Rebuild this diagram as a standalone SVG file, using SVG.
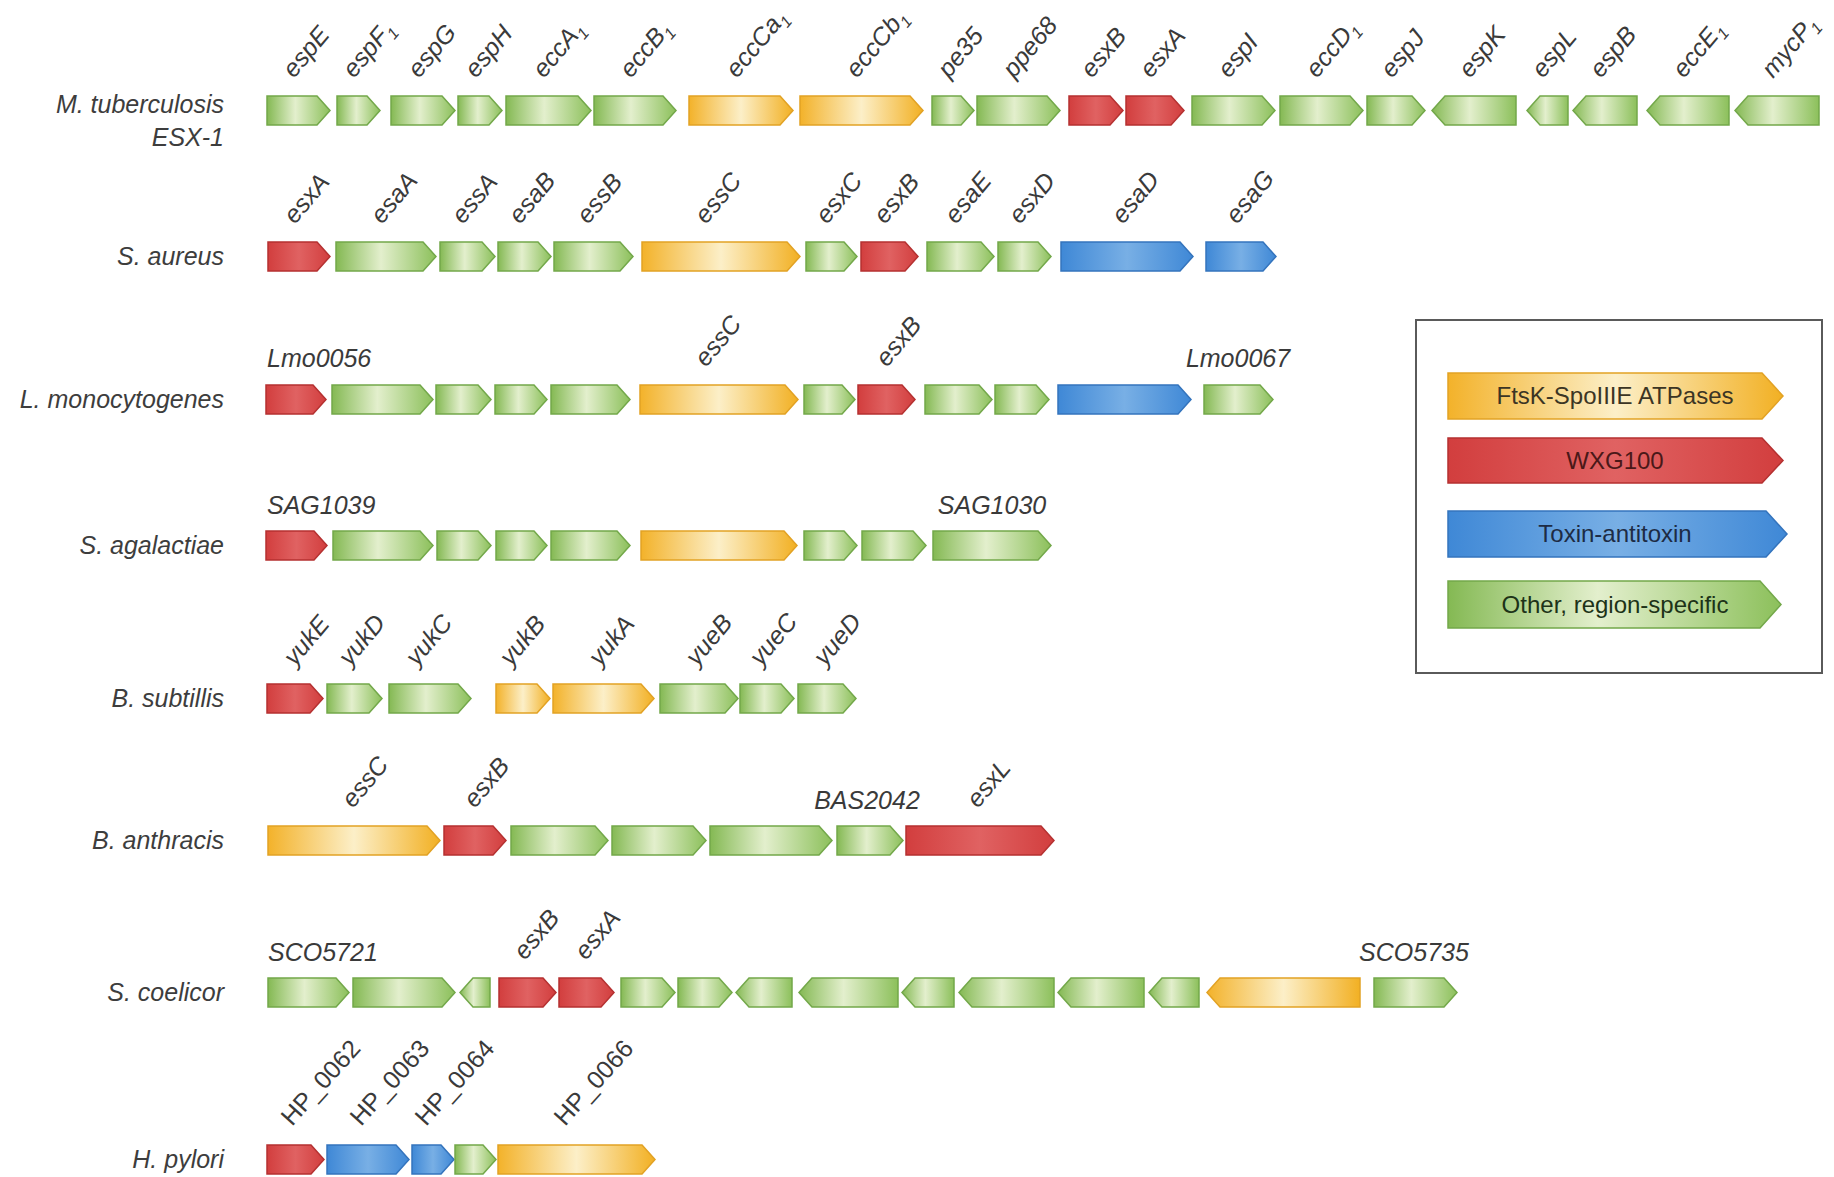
<svg xmlns="http://www.w3.org/2000/svg" width="1834" height="1177" viewBox="0 0 1834 1177">
<defs>
<linearGradient id="gG" x1="0" y1="0" x2="1" y2="0">
<stop offset="0" stop-color="#84b953"/><stop offset="0.45" stop-color="#e3efcd"/><stop offset="1" stop-color="#8cc05b"/>
</linearGradient>
<linearGradient id="gY" x1="0" y1="0" x2="1" y2="0">
<stop offset="0" stop-color="#f3b22a"/><stop offset="0.5" stop-color="#fcefc8"/><stop offset="1" stop-color="#f2b023"/>
</linearGradient>
<linearGradient id="gR" x1="0" y1="0" x2="1" y2="0">
<stop offset="0" stop-color="#d23e3e"/><stop offset="0.5" stop-color="#e06262"/><stop offset="1" stop-color="#d23e3e"/>
</linearGradient>
<linearGradient id="gB" x1="0" y1="0" x2="1" y2="0">
<stop offset="0" stop-color="#3f88d6"/><stop offset="0.5" stop-color="#78afe5"/><stop offset="1" stop-color="#3f88d6"/>
</linearGradient>
</defs>
<style>
.g{fill:url(#gG);stroke:#73a84a;stroke-width:1.5}
.y{fill:url(#gY);stroke:#e2a224;stroke-width:1.5}
.r{fill:url(#gR);stroke:#b53131;stroke-width:1.5}
.b{fill:url(#gB);stroke:#3474bd;stroke-width:1.5}
.sp{font-family:"Liberation Sans",Arial,sans-serif;font-size:25px;font-style:italic;fill:#3d3d3d;text-anchor:end}
.gl{font-family:"Liberation Sans",Arial,sans-serif;font-size:25px;font-style:italic;fill:#3a3a3a}
.hl{font-family:"Liberation Sans",Arial,sans-serif;font-size:25px;font-style:normal;fill:#3a3a3a}
.sub{font-size:16px}
.lg{font-family:"Liberation Sans",Arial,sans-serif;font-size:24px;text-anchor:middle}
</style>
<rect width="1834" height="1177" fill="#ffffff"/>
<g id="connectors"/>

<g id="species-labels">
<text class="sp" x="224" y="113">M. tuberculosis</text>
<text class="sp" x="224" y="146">ESX-1</text>
<text class="sp" x="224" y="265">S. aureus</text>
<text class="sp" x="224" y="408">L. monocytogenes</text>
<text class="sp" x="224" y="554">S. agalactiae</text>
<text class="sp" x="224" y="707">B. subtillis</text>
<text class="sp" x="224" y="849">B. anthracis</text>
<text class="sp" x="224" y="1001">S. coelicor</text>
<text class="sp" x="224" y="1168">H. pylori</text>
</g>

<!-- Row 1: M. tuberculosis ESX-1 -->
<g id="row-mtb">
<g id="mtb-espE"><path class="g" d="M267 96H317L330 110.5L317 125H267Z"/><text class="gl" transform="translate(294 79) rotate(-50)">espE</text></g>
<g id="mtb-espF1"><path class="g" d="M337 96H367L380 110.5L367 125H337Z"/><text class="gl" transform="translate(354 79) rotate(-50)">espF<tspan class="sub" dy="6">1</tspan></text></g>
<g id="mtb-espG"><path class="g" d="M391 96H442L455 110.5L442 125H391Z"/><text class="gl" transform="translate(419 79) rotate(-50)">espG</text></g>
<g id="mtb-espH"><path class="g" d="M458 96H489L502 110.5L489 125H458Z"/><text class="gl" transform="translate(476 79) rotate(-50)">espH</text></g>
<g id="mtb-eccA1"><path class="g" d="M506 96H578L591 110.5L578 125H506Z"/><text class="gl" transform="translate(544 79) rotate(-50)">eccA<tspan class="sub" dy="6">1</tspan></text></g>
<g id="mtb-eccB1"><path class="g" d="M594 96H663L676 110.5L663 125H594Z"/><text class="gl" transform="translate(631 79) rotate(-50)">eccB<tspan class="sub" dy="6">1</tspan></text></g>
<g id="mtb-eccCa1"><path class="y" d="M689 96H780L793 110.5L780 125H689Z"/><text class="gl" transform="translate(737 79) rotate(-50)">eccCa<tspan class="sub" dy="6">1</tspan></text></g>
<g id="mtb-eccCb1"><path class="y" d="M800 96H910L923 110.5L910 125H800Z"/><text class="gl" transform="translate(857 79) rotate(-50)">eccCb<tspan class="sub" dy="6">1</tspan></text></g>
<g id="mtb-pe35"><path class="g" d="M932 96H961L974 110.5L961 125H932Z"/><text class="gl" transform="translate(949 79) rotate(-50)">pe35</text></g>
<g id="mtb-ppe68"><path class="g" d="M977 96H1047L1060 110.5L1047 125H977Z"/><text class="gl" transform="translate(1014 79) rotate(-50)">ppe68</text></g>
<g id="mtb-esxB"><path class="r" d="M1069 96H1110L1123 110.5L1110 125H1069Z"/><text class="gl" transform="translate(1092 79) rotate(-50)">esxB</text></g>
<g id="mtb-esxA"><path class="r" d="M1126 96H1171L1184 110.5L1171 125H1126Z"/><text class="gl" transform="translate(1151 79) rotate(-50)">esxA</text></g>
<g id="mtb-espI"><path class="g" d="M1192 96H1262L1275 110.5L1262 125H1192Z"/><text class="gl" transform="translate(1229 79) rotate(-50)">espI</text></g>
<g id="mtb-eccD1"><path class="g" d="M1280 96H1350L1363 110.5L1350 125H1280Z"/><text class="gl" transform="translate(1317 79) rotate(-50)">eccD<tspan class="sub" dy="6">1</tspan></text></g>
<g id="mtb-espJ"><path class="g" d="M1367 96H1412L1425 110.5L1412 125H1367Z"/><text class="gl" transform="translate(1392 79) rotate(-50)">espJ</text></g>
<g id="mtb-espK"><path class="g" d="M1516 96H1445L1432 110.5L1445 125H1516Z"/><text class="gl" transform="translate(1470 79) rotate(-50)">espK</text></g>
<g id="mtb-espL"><path class="g" d="M1568 96H1540L1527 110.5L1540 125H1568Z"/><text class="gl" transform="translate(1543 79) rotate(-50)">espL</text></g>
<g id="mtb-espB"><path class="g" d="M1637 96H1586L1573 110.5L1586 125H1637Z"/><text class="gl" transform="translate(1601 79) rotate(-50)">espB</text></g>
<g id="mtb-eccE1"><path class="g" d="M1729 96H1660L1647 110.5L1660 125H1729Z"/><text class="gl" transform="translate(1684 79) rotate(-50)">eccE<tspan class="sub" dy="6">1</tspan></text></g>
<g id="mtb-mycP1"><path class="g" d="M1819 96H1748L1735 110.5L1748 125H1819Z"/><text class="gl" transform="translate(1773 79) rotate(-50)">mycP<tspan class="sub" dy="6">1</tspan></text></g>
</g>

<!-- Row 2: S. aureus -->
<g id="row-sau">
<g id="sau-esxA"><path class="r" d="M268 242H317L330 256.5L317 271H268Z"/><text class="gl" transform="translate(295 225) rotate(-50)">esxA</text></g>
<g id="sau-esaA"><path class="g" d="M336 242H423L436 256.5L423 271H336Z"/><text class="gl" transform="translate(382 225) rotate(-50)">esaA</text></g>
<g id="sau-essA"><path class="g" d="M440 242H482L495 256.5L482 271H440Z"/><text class="gl" transform="translate(463 225) rotate(-50)">essA</text></g>
<g id="sau-esaB"><path class="g" d="M498 242H538L551 256.5L538 271H498Z"/><text class="gl" transform="translate(520 225) rotate(-50)">esaB</text></g>
<g id="sau-essB"><path class="g" d="M554 242H620L633 256.5L620 271H554Z"/><text class="gl" transform="translate(588 225) rotate(-50)">essB</text></g>
<g id="sau-essC"><path class="y" d="M642 242H787L800 256.5L787 271H642Z"/><text class="gl" transform="translate(706 225) rotate(-50)">essC</text></g>
<g id="sau-esxC"><path class="g" d="M806 242H844L857 256.5L844 271H806Z"/><text class="gl" transform="translate(827 225) rotate(-50)">esxC</text></g>
<g id="sau-esxB"><path class="r" d="M861 242H905L918 256.5L905 271H861Z"/><text class="gl" transform="translate(885 225) rotate(-50)">esxB</text></g>
<g id="sau-esaE"><path class="g" d="M927 242H981L994 256.5L981 271H927Z"/><text class="gl" transform="translate(956 225) rotate(-50)">esaE</text></g>
<g id="sau-esxD"><path class="g" d="M998 242H1038L1051 256.5L1038 271H998Z"/><text class="gl" transform="translate(1020 225) rotate(-50)">esxD</text></g>
<g id="sau-esaD"><path class="b" d="M1061 242H1180L1193 256.5L1180 271H1061Z"/><text class="gl" transform="translate(1123 225) rotate(-50)">esaD</text></g>
<g id="sau-esaG"><path class="b" d="M1206 242H1263L1276 256.5L1263 271H1206Z"/><text class="gl" transform="translate(1237 225) rotate(-50)">esaG</text></g>
</g>

<!-- Row 3: L. monocytogenes -->
<g id="row-lmo">
<g id="lmo-0056"><path class="r" d="M266 385H313L326 399.5L313 414H266Z"/><text class="gl" x="267" y="367">Lmo0056</text></g>
<g id="lmo-2"><path class="g" d="M332 385H420L433 399.5L420 414H332Z"/></g>
<g id="lmo-3"><path class="g" d="M436 385H478L491 399.5L478 414H436Z"/></g>
<g id="lmo-4"><path class="g" d="M495 385H534L547 399.5L534 414H495Z"/></g>
<g id="lmo-5"><path class="g" d="M551 385H617L630 399.5L617 414H551Z"/></g>
<g id="lmo-essC"><path class="y" d="M640 385H785L798 399.5L785 414H640Z"/><text class="gl" transform="translate(706 368) rotate(-50)">essC</text></g>
<g id="lmo-7"><path class="g" d="M804 385H842L855 399.5L842 414H804Z"/></g>
<g id="lmo-esxB"><path class="r" d="M858 385H902L915 399.5L902 414H858Z"/><text class="gl" transform="translate(887 368) rotate(-50)">esxB</text></g>
<g id="lmo-9"><path class="g" d="M925 385H979L992 399.5L979 414H925Z"/></g>
<g id="lmo-10"><path class="g" d="M995 385H1036L1049 399.5L1036 414H995Z"/></g>
<g id="lmo-11"><path class="b" d="M1058 385H1178L1191 399.5L1178 414H1058Z"/></g>
<g id="lmo-0067"><path class="g" d="M1204 385H1260L1273 399.5L1260 414H1204Z"/><text class="gl" x="1238" y="367" text-anchor="middle">Lmo0067</text></g>
</g>

<!-- Row 4: S. agalactiae -->
<g id="row-sag">
<g id="sag-1039"><path class="r" d="M266 531H314L327 545.5L314 560H266Z"/><text class="gl" x="267" y="514">SAG1039</text></g>
<g id="sag-2"><path class="g" d="M333 531H420L433 545.5L420 560H333Z"/></g>
<g id="sag-3"><path class="g" d="M437 531H478L491 545.5L478 560H437Z"/></g>
<g id="sag-4"><path class="g" d="M496 531H534L547 545.5L534 560H496Z"/></g>
<g id="sag-5"><path class="g" d="M551 531H617L630 545.5L617 560H551Z"/></g>
<g id="sag-6"><path class="y" d="M641 531H784L797 545.5L784 560H641Z"/></g>
<g id="sag-7"><path class="g" d="M804 531H844L857 545.5L844 560H804Z"/></g>
<g id="sag-8"><path class="g" d="M862 531H913L926 545.5L913 560H862Z"/></g>
<g id="sag-1030"><path class="g" d="M933 531H1038L1051 545.5L1038 560H933Z"/><text class="gl" x="992" y="514" text-anchor="middle">SAG1030</text></g>
</g>

<!-- Row 5: B. subtillis -->
<g id="row-bsu">
<g id="bsu-yukE"><path class="r" d="M267 684H310L323 698.5L310 713H267Z"/><text class="gl" transform="translate(295 667) rotate(-50)">yukE</text></g>
<g id="bsu-yukD"><path class="g" d="M327 684H369L382 698.5L369 713H327Z"/><text class="gl" transform="translate(350 667) rotate(-50)">yukD</text></g>
<g id="bsu-yukC"><path class="g" d="M389 684H458L471 698.5L458 713H389Z"/><text class="gl" transform="translate(417 667) rotate(-50)">yukC</text></g>
<g id="bsu-yukB"><path class="y" d="M496 684H537L550 698.5L537 713H496Z"/><text class="gl" transform="translate(511 667) rotate(-50)">yukB</text></g>
<g id="bsu-yukA"><path class="y" d="M553 684H641L654 698.5L641 713H553Z"/><text class="gl" transform="translate(600 667) rotate(-50)">yukA</text></g>
<g id="bsu-yueB"><path class="g" d="M660 684H725L738 698.5L725 713H660Z"/><text class="gl" transform="translate(697 667) rotate(-50)">yueB</text></g>
<g id="bsu-yueC"><path class="g" d="M740 684H781L794 698.5L781 713H740Z"/><text class="gl" transform="translate(761 667) rotate(-50)">yueC</text></g>
<g id="bsu-yueD"><path class="g" d="M798 684H843L856 698.5L843 713H798Z"/><text class="gl" transform="translate(825 667) rotate(-50)">yueD</text></g>
</g>

<!-- Row 6: B. anthracis -->
<g id="row-ban">
<g id="ban-essC"><path class="y" d="M268 826H427L440 840.5L427 855H268Z"/><text class="gl" transform="translate(353 809) rotate(-50)">essC</text></g>
<g id="ban-esxB"><path class="r" d="M444 826H493L506 840.5L493 855H444Z"/><text class="gl" transform="translate(475 809) rotate(-50)">esxB</text></g>
<g id="ban-3"><path class="g" d="M511 826H595L608 840.5L595 855H511Z"/></g>
<g id="ban-4"><path class="g" d="M612 826H693L706 840.5L693 855H612Z"/></g>
<g id="ban-5"><path class="g" d="M710 826H819L832 840.5L819 855H710Z"/></g>
<g id="ban-BAS2042"><path class="g" d="M837 826H890L903 840.5L890 855H837Z"/><text class="gl" x="867" y="809" text-anchor="middle">BAS2042</text></g>
<g id="ban-esxL"><path class="r" d="M906 826H1041L1054 840.5L1041 855H906Z"/><text class="gl" transform="translate(978 809) rotate(-50)">esxL</text></g>
</g>

<!-- Row 7: S. coelicor -->
<g id="row-sco">
<g id="sco-5721"><path class="g" d="M268 978H336L349 992.5L336 1007H268Z"/><text class="gl" x="268" y="961">SCO5721</text></g>
<g id="sco-2"><path class="g" d="M353 978H442L455 992.5L442 1007H353Z"/></g>
<g id="sco-3"><path class="g" d="M490 978H473L460 992.5L473 1007H490Z"/></g>
<g id="sco-esxB"><path class="r" d="M499 978H543L556 992.5L543 1007H499Z"/><text class="gl" transform="translate(525 961) rotate(-50)">esxB</text></g>
<g id="sco-esxA"><path class="r" d="M559 978H601L614 992.5L601 1007H559Z"/><text class="gl" transform="translate(586 961) rotate(-50)">esxA</text></g>
<g id="sco-6"><path class="g" d="M621 978H662L675 992.5L662 1007H621Z"/></g>
<g id="sco-7"><path class="g" d="M678 978H719L732 992.5L719 1007H678Z"/></g>
<g id="sco-8"><path class="g" d="M792 978H749L736 992.5L749 1007H792Z"/></g>
<g id="sco-9"><path class="g" d="M898 978H812L799 992.5L812 1007H898Z"/></g>
<g id="sco-10"><path class="g" d="M954 978H915L902 992.5L915 1007H954Z"/></g>
<g id="sco-11"><path class="g" d="M1054 978H972L959 992.5L972 1007H1054Z"/></g>
<g id="sco-12"><path class="g" d="M1144 978H1071L1058 992.5L1071 1007H1144Z"/></g>
<g id="sco-13"><path class="g" d="M1199 978H1162L1149 992.5L1162 1007H1199Z"/></g>
<g id="sco-14"><path class="y" d="M1360 978H1220L1207 992.5L1220 1007H1360Z"/></g>
<g id="sco-5735"><path class="g" d="M1374 978H1444L1457 992.5L1444 1007H1374Z"/><text class="gl" x="1414" y="961" text-anchor="middle">SCO5735</text></g>
</g>

<!-- Row 8: H. pylori -->
<g id="row-hpy">
<g id="hpy-0062"><path class="r" d="M267 1145H311L324 1159.5L311 1174H267Z"/><text class="hl" transform="translate(292 1127) rotate(-48)">HP_0062</text></g>
<g id="hpy-0063"><path class="b" d="M327 1145H396L409 1159.5L396 1174H327Z"/><text class="hl" transform="translate(361 1127) rotate(-48)">HP_0063</text></g>
<g id="hpy-0064"><path class="b" d="M412 1145H441L454 1159.5L441 1174H412Z"/><text class="hl" transform="translate(426 1127) rotate(-48)">HP_0064</text></g>
<g id="hpy-4"><path class="g" d="M455 1145H483L496 1159.5L483 1174H455Z"/></g>
<g id="hpy-0066"><path class="y" d="M498 1145H642L655 1159.5L642 1174H498Z"/><text class="hl" transform="translate(565 1127) rotate(-48)">HP_0066</text></g>
</g>

<!-- Legend -->
<g id="legend">
<rect x="1416" y="320" width="406" height="353" fill="#ffffff" stroke="#5a5a5a" stroke-width="2"/>
<g id="legend-ftsk"><path class="y" d="M1448 373H1762L1783 396L1762 419H1448Z"/><text class="lg" x="1615" y="404" fill="#3b3524">FtsK-SpoIIIE ATPases</text></g>
<g id="legend-wxg"><path class="r" d="M1448 438H1762L1783 460.5L1762 483H1448Z"/><text class="lg" x="1615" y="469" fill="#4a1818">WXG100</text></g>
<g id="legend-toxin"><path class="b" d="M1448 511H1766L1787 534L1766 557H1448Z"/><text class="lg" x="1615" y="542" fill="#1d2b44">Toxin-antitoxin</text></g>
<g id="legend-other"><path class="g" d="M1448 581H1760L1781 604.5L1760 628H1448Z"/><text class="lg" x="1615" y="613" fill="#1d3318">Other, region-specific</text></g>
</g>
</svg>
